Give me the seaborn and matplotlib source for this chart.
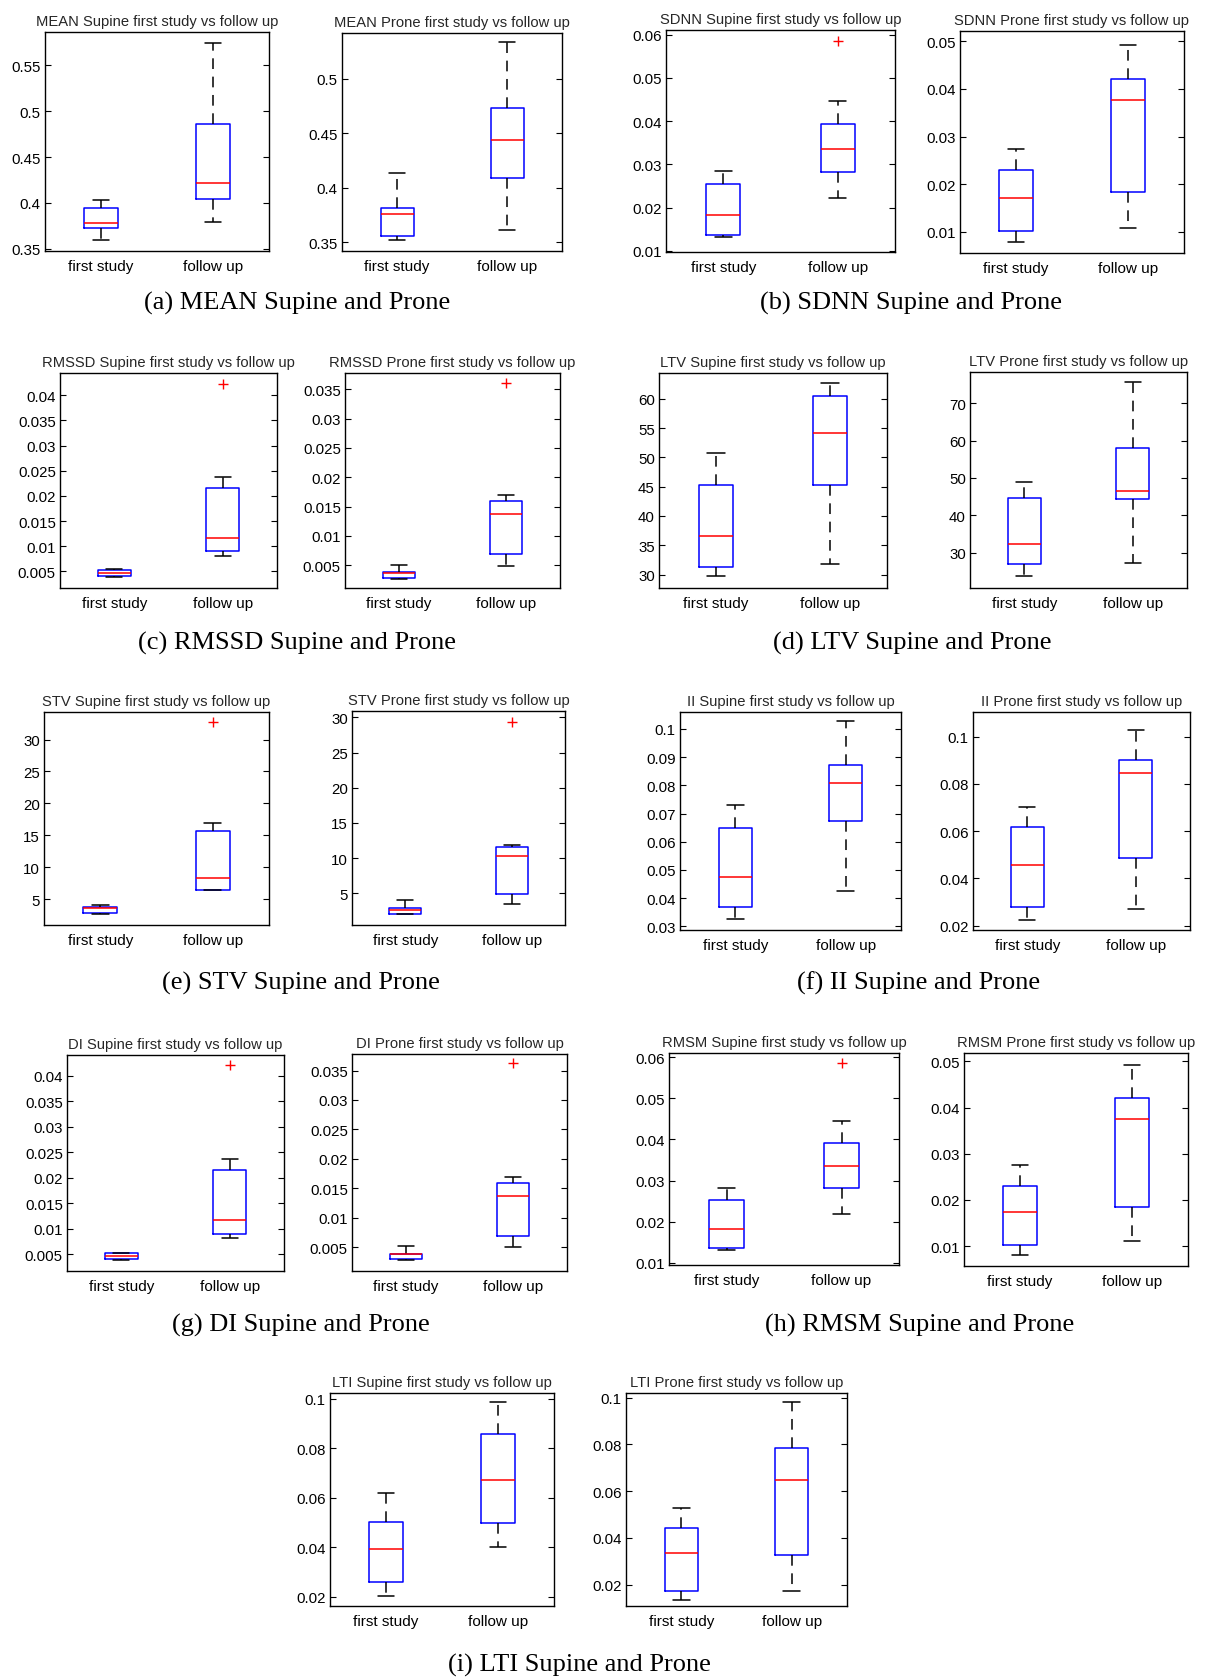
import numpy as np
import pandas as pd
import matplotlib
matplotlib.use("Agg")
import matplotlib.pyplot as plt
from matplotlib.ticker import MultipleLocator, FuncFormatter
import seaborn as sns

groups = ["first study", "follow up"]

# Five-number summaries per group: lower whisker, Q1, median, Q3, upper whisker
mean_supine_first = [0.3595, 0.3722, 0.3784, 0.3947, 0.4031]
mean_supine_follow = [0.3795, 0.4042, 0.4220, 0.4856, 0.5747]
mean_prone_first = [0.3521, 0.3558, 0.3757, 0.3818, 0.4139]
mean_prone_follow = [0.3613, 0.4087, 0.4435, 0.4734, 0.5333]

sdnn_supine_first = [0.0132, 0.0136, 0.0182, 0.0254, 0.0285]
sdnn_supine_follow = [0.0221, 0.0283, 0.0336, 0.0394, 0.0446]
sdnn_supine_out = [0.0586]
sdnn_prone_first = [0.0080, 0.0103, 0.0172, 0.0230, 0.0274]
sdnn_prone_follow = [0.0109, 0.0184, 0.0376, 0.0421, 0.0491]

rmssd_supine_first = [0.0038, 0.0040, 0.0047, 0.0052, 0.0055]
rmssd_supine_follow = [0.0081, 0.0090, 0.0117, 0.0215, 0.0237]
rmssd_supine_out = [0.0422]
rmssd_prone_first = [0.0027, 0.0028, 0.0036, 0.0039, 0.0051]
rmssd_prone_follow = [0.0049, 0.0069, 0.0137, 0.0160, 0.0169]
rmssd_prone_out = [0.0361]

ltv_supine_first = [29.8, 31.3, 36.6, 45.2, 50.8]
ltv_supine_follow = [31.8, 45.2, 54.1, 60.5, 62.7]
ltv_prone_first = [23.9, 27.1, 32.3, 44.6, 48.9]
ltv_prone_follow = [27.4, 44.3, 46.4, 57.9, 75.5]

stv_supine_first = [2.7, 2.8, 3.7, 3.85, 4.2]
stv_supine_follow = [6.5, 6.5, 8.4, 15.7, 17.0]
stv_supine_out = [32.8]
stv_prone_first = [2.0, 2.05, 2.7, 2.9, 4.0]
stv_prone_follow = [3.5, 4.86, 10.27, 11.64, 11.93]
stv_prone_out = [29.4]

ii_supine_first = [0.0325, 0.0370, 0.0474, 0.0648, 0.0732]
ii_supine_follow = [0.0426, 0.0675, 0.0810, 0.0873, 0.1027]
ii_prone_first = [0.0224, 0.0278, 0.0456, 0.0616, 0.0702]
ii_prone_follow = [0.0269, 0.0487, 0.0846, 0.0901, 0.1028]

di_supine_first = [0.0039, 0.0040, 0.0047, 0.0052, 0.0053]
di_supine_follow = [0.0081, 0.0090, 0.0118, 0.0215, 0.0236]
di_supine_out = [0.0422]
di_prone_first = [0.0028, 0.0030, 0.0038, 0.0039, 0.0053]
di_prone_follow = [0.0050, 0.0070, 0.0138, 0.0160, 0.0169]
di_prone_out = [0.0362]

rmsm_supine_first = [0.0132, 0.0136, 0.0182, 0.0253, 0.0283]
rmsm_supine_follow = [0.0219, 0.0283, 0.0335, 0.0392, 0.0445]
rmsm_supine_out = [0.0586]
rmsm_prone_first = [0.0080, 0.0102, 0.0174, 0.0231, 0.0276]
rmsm_prone_follow = [0.0112, 0.0184, 0.0376, 0.0420, 0.0491]

lti_supine_first = [0.0204, 0.0259, 0.0392, 0.0501, 0.0619]
lti_supine_follow = [0.0400, 0.0497, 0.0670, 0.0857, 0.0987]
lti_prone_first = [0.0136, 0.0172, 0.0336, 0.0441, 0.0528]
lti_prone_follow = [0.0174, 0.0327, 0.0650, 0.0783, 0.0981]

captions = [
    "(a) MEAN Supine and Prone", "(b) SDNN Supine and Prone",
    "(c) RMSSD Supine and Prone", "(d) LTV Supine and Prone",
    "(e) STV Supine and Prone", "(f) II Supine and Prone",
    "(g) DI Supine and Prone", "(h) RMSM Supine and Prone",
    "(i) LTI Supine and Prone",
]

W, H = 1206, 1681

sns.set_theme(style="ticks")
plt.rcParams["font.family"] = ["Liberation Sans", "DejaVu Sans"]
plt.rcParams["axes.edgecolor"] = "black"
plt.rcParams["axes.linewidth"] = 1.0

fig = plt.figure(figsize=(W / 100, H / 100), dpi=100)
fig.patch.set_facecolor("white")


def fmt(v, _):
    return f"{v:g}"


def panel(rect, title, first, follow, outliers, ylim, step):
    x0, x1, yt, yb = rect
    ax = fig.add_axes([x0 / W, 1 - yb / H, (x1 - x0) / W, (yb - yt) / H])
    df = pd.DataFrame({"group": np.repeat(groups, 5), "value": list(first) + list(follow)})
    sns.boxplot(
        data=df, x="group", y="value", order=groups, ax=ax,
        width=0.3, whis=(0, 100), fill=False, showfliers=False,
        linecolor="blue", linewidth=1.1,
        boxprops=dict(color="blue"),
        whiskerprops=dict(color="black", linestyle=(0, (7, 5))),
        capprops=dict(color="black"),
        medianprops=dict(color="red"),
    )
    if outliers:
        sns.scatterplot(x=["follow up"] * len(outliers), y=outliers, ax=ax,
                        marker="+", color="red", s=55, linewidth=1.0, legend=False)
    ax.set_xlim(-0.5, 1.5)
    ax.set_ylim(*ylim)
    ax.yaxis.set_major_locator(MultipleLocator(step))
    ax.yaxis.set_major_formatter(FuncFormatter(fmt))
    ax.tick_params(axis="y", direction="in", left=True, right=True, length=4,
                   width=0.8, labelsize=10.8, pad=3, colors="black")
    ax.tick_params(axis="x", length=0, pad=6, labelsize=11, colors="black")
    ax.set_xlabel("")
    ax.set_ylabel("")
    for s in ax.spines.values():
        s.set_visible(True)
        s.set_color("black")
    ax.set_title(title, fontsize=10.6, pad=5)
    return ax


panels = [
    ((45, 269, 33, 252), "MEAN Supine first study vs follow up", mean_supine_first, mean_supine_follow, [], (0.3475, 0.5864), 0.05),
    ((342, 562, 34, 252), "MEAN Prone first study vs follow up", mean_prone_first, mean_prone_follow, [], (0.3421, 0.5419), 0.05),
    ((666, 895, 31, 253), "SDNN Supine first study vs follow up", sdnn_supine_first, sdnn_supine_follow, sdnn_supine_out, (0.0097, 0.0611), 0.01),
    ((960, 1184, 32, 254), "SDNN Prone first study vs follow up", sdnn_prone_first, sdnn_prone_follow, [], (0.0056, 0.0521), 0.01),
    ((60, 277, 374, 589), "RMSSD Supine first study vs follow up", rmssd_supine_first, rmssd_supine_follow, rmssd_supine_out, (0.0017, 0.0444), 0.005),
    ((345, 560, 374, 589), "RMSSD Prone first study vs follow up", rmssd_prone_first, rmssd_prone_follow, rmssd_prone_out, (0.0011, 0.0378), 0.005),
    ((659, 887, 374, 589), "LTV Supine first study vs follow up", ltv_supine_first, ltv_supine_follow, [], (27.7, 64.4), 5),
    ((970, 1187, 373, 589), "LTV Prone first study vs follow up", ltv_prone_first, ltv_prone_follow, [], (20.6, 78.3), 10),
    ((44, 269, 713, 926), "STV Supine first study vs follow up", stv_supine_first, stv_supine_follow, stv_supine_out, (1.0, 34.3), 5),
    ((352, 565, 712, 926), "STV Prone first study vs follow up", stv_prone_first, stv_prone_follow, stv_prone_out, (0.5, 30.9), 5),
    ((680, 901, 713, 931), "II Supine first study vs follow up", ii_supine_first, ii_supine_follow, [], (0.0287, 0.1060), 0.01),
    ((973, 1190, 713, 931), "II Prone first study vs follow up", ii_prone_first, ii_prone_follow, [], (0.0181, 0.1105), 0.02),
    ((67, 284, 1056, 1272), "DI Supine first study vs follow up", di_supine_first, di_supine_follow, di_supine_out, (0.0017, 0.0441), 0.005),
    ((352, 567, 1055, 1272), "DI Prone first study vs follow up", di_prone_first, di_prone_follow, di_prone_out, (0.0010, 0.0378), 0.005),
    ((669, 899, 1054, 1266), "RMSM Supine first study vs follow up", rmsm_supine_first, rmsm_supine_follow, rmsm_supine_out, (0.0095, 0.0610), 0.01),
    ((964, 1188, 1054, 1267), "RMSM Prone first study vs follow up", rmsm_prone_first, rmsm_prone_follow, [], (0.0057, 0.0518), 0.01),
    ((330, 554, 1394, 1607), "LTI Supine first study vs follow up", lti_supine_first, lti_supine_follow, [], (0.0162, 0.1023), 0.02),
    ((626, 847, 1394, 1607), "LTI Prone first study vs follow up", lti_prone_first, lti_prone_follow, [], (0.0109, 0.1020), 0.02),
]

for spec in panels:
    panel(*spec)

caption_pos = [(297, 303), (911, 303), (297, 643), (912, 643), (301, 983),
               (919, 983), (301, 1325), (920, 1325), (579, 1665)]
for text, (cx, cy) in zip(captions, caption_pos):
    fig.text(cx / W, 1 - cy / H, text, ha="center", va="center",
             family=["Liberation Serif", "DejaVu Serif"], fontsize=19, color="black")

fig.savefig("out.png", dpi=100, facecolor="white")
